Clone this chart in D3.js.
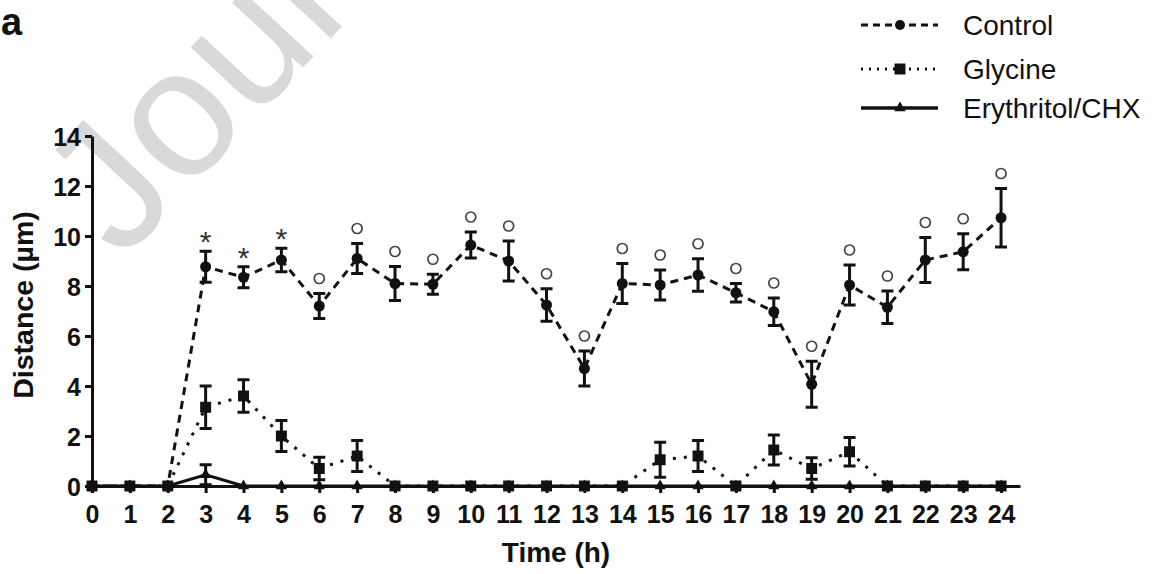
<!DOCTYPE html>
<html>
<head>
<meta charset="utf-8">
<script src="https://cdn.jsdelivr.net/npm/d3@7/dist/d3.min.js"></script>
<style>
  html, body { margin: 0; padding: 0; background: #fff; }
  svg { display: block; font-family: "Liberation Sans", Arial, Helvetica, sans-serif; }
</style>
</head>
<body>
<svg id="chart" width="1152" height="574"></svg>
<script>
// ---- data ----
const hours = d3.range(0, 25);
const xTickLabels = hours.map(String);
const yTicks = [0, 2, 4, 6, 8, 10, 12, 14];
const controlMean = [0, 0, 0, 8.77, 8.35, 9.04, 7.2, 9.1, 8.1, 8.07, 9.64, 9.0, 7.24, 4.7, 8.1, 8.04, 8.44, 7.73, 6.97, 4.07, 8.04, 7.15, 9.04, 9.37, 10.73];
const controlSem  = [0, 0, 0, 0.62, 0.42, 0.47, 0.5, 0.6, 0.68, 0.4, 0.52, 0.8, 0.65, 0.7, 0.8, 0.6, 0.65, 0.37, 0.55, 0.92, 0.8, 0.65, 0.9, 0.72, 1.17];
const glycineMean = [0, 0, 0, 3.15, 3.6, 2.0, 0.7, 1.2, 0, 0, 0, 0, 0, 0, 0, 1.05, 1.2, 0, 1.44, 0.7, 1.37, 0, 0, 0, 0];
const glycineSem  = [0, 0, 0, 0.85, 0.65, 0.62, 0.45, 0.62, 0, 0, 0, 0, 0, 0, 0, 0.7, 0.62, 0, 0.6, 0.43, 0.57, 0, 0, 0, 0];
const eryMean = [0, 0, 0, 0.45, 0, 0, 0, 0, 0, 0, 0, 0, 0, 0, 0, 0, 0, 0, 0, 0, 0, 0, 0, 0, 0];
const erySem  = [0, 0, 0, 0.4, 0, 0, 0, 0, 0, 0, 0, 0, 0, 0, 0, 0, 0, 0, 0, 0, 0, 0, 0, 0, 0];
const signif = ["", "", "", "*", "*", "*", "o", "o", "o", "o", "o", "o", "o", "o", "o", "o", "o", "o", "o", "o", "o", "o", "o", "o", "o"];
const seriesNames = ["Control", "Glycine", "Erythritol/CHX"];

// ---- layout ----
const svg = d3.select("#chart");
const x = d3.scaleLinear().domain([0, 24.5]).range([92, 1020]);
const y = d3.scaleLinear().domain([0, 14]).range([486, 136]);
const ink = "#111";

// watermark
svg.append("text")
  .attr("transform", "translate(122,262) rotate(-47)")
  .attr("font-size", 182)
  .attr("fill", "#d9d9d9")
  .text("Journal Pre-proof");

// panel label
svg.append("text").attr("x", 1).attr("y", 35)
  .attr("font-size", 38).attr("font-weight", "bold").attr("fill", ink).text("a");

// axes
const xAxis = svg.append("g").attr("transform", `translate(0,${y(0)})`)
  .call(d3.axisBottom(x).tickValues(hours).tickFormat((d, i) => xTickLabels[i]).tickSize(7).tickSizeOuter(0).tickPadding(12));
const yAxis = svg.append("g").attr("transform", `translate(${x(0)},0)`)
  .call(d3.axisLeft(y).tickValues(yTicks).tickSize(7).tickSizeOuter(0).tickPadding(4));
[xAxis, yAxis].forEach(g => {
  g.selectAll("path, line").attr("stroke", ink).attr("stroke-width", 3);
  g.selectAll("text").attr("font-size", 25).attr("font-weight", "bold").attr("fill", ink)
    .attr("font-family", '"Liberation Sans", Arial, sans-serif');
});
yAxis.selectAll("text").attr("dy", "0.36em");

// axis titles
svg.append("text").attr("x", (x(0) + x(24.5)) / 2).attr("y", 562)
  .attr("text-anchor", "middle").attr("font-size", 28).attr("font-weight", "bold").attr("fill", ink)
  .text("Time (h)");
svg.append("text").attr("transform", `translate(33,${(y(0) + y(14)) / 2 - 6}) rotate(-90)`)
  .attr("text-anchor", "middle").attr("font-size", 28.5).attr("font-weight", "bold").attr("fill", ink)
  .text("Distance (µm)");

// helpers
const line = d3.line().x((d, i) => x(hours[i])).y(d => y(d));
const sq = d3.symbol().type(d3.symbolSquare).size(120);
const tri = d3.symbol().type(d3.symbolTriangle).size(55);

function drawSeries(means, sems, dash, width, marker) {
  const g = svg.append("g");
  g.append("path").datum(means).attr("d", line)
    .attr("fill", "none").attr("stroke", ink).attr("stroke-width", width)
    .attr("stroke-dasharray", dash);
  const eb = g.selectAll("g.eb").data(means.map((m, i) => ({ m, s: sems[i], h: hours[i] })).filter(d => d.s > 0))
    .join("g").attr("stroke", ink).attr("stroke-width", 3);
  eb.append("line").attr("x1", d => x(d.h)).attr("x2", d => x(d.h))
    .attr("y1", d => y(d.m - d.s)).attr("y2", d => y(d.m + d.s));
  eb.append("line").attr("x1", d => x(d.h) - 6).attr("x2", d => x(d.h) + 6)
    .attr("y1", d => y(d.m + d.s)).attr("y2", d => y(d.m + d.s));
  eb.append("line").attr("x1", d => x(d.h) - 6).attr("x2", d => x(d.h) + 6)
    .attr("y1", d => y(d.m - d.s)).attr("y2", d => y(d.m - d.s));
  g.selectAll(".mk").data(means).join(marker === "circle" ? "circle" : "path")
    .each(function (d, i) {
      const el = d3.select(this).attr("fill", ink);
      if (marker === "circle") el.attr("cx", x(hours[i])).attr("cy", y(d)).attr("r", 5.5);
      else el.attr("transform", `translate(${x(hours[i])},${y(d)})`).attr("d", marker === "square" ? sq() : tri());
    });
}

drawSeries(controlMean, controlSem, "8,6", 3, "circle");
drawSeries(eryMean, erySem, null, 3, "triangle");
drawSeries(glycineMean, glycineSem, "3,8", 3, "square");

// significance markers
signif.forEach((s, i) => {
  if (!s) return;
  const top = y(controlMean[i] + controlSem[i]);
  if (s === "*") {
    svg.append("text").attr("x", x(hours[i])).attr("y", top + 1)
      .attr("text-anchor", "middle").attr("font-size", 30).attr("fill", "#333").text("*");
  } else {
    svg.append("circle").attr("cx", x(hours[i])).attr("cy", top - 15).attr("r", 5)
      .attr("fill", "none").attr("stroke", "#444").attr("stroke-width", 1.7);
  }
});

// legend
const legY = [25, 69, 108];
const legDash = ["7,5", "2,6", null];
const legMarker = ["circle", "square", "triangle"];
seriesNames.forEach((name, i) => {
  const g = svg.append("g").attr("transform", `translate(0,${legY[i]})`);
  g.append("line").attr("x1", 861).attr("x2", 938).attr("y1", 0).attr("y2", 0)
    .attr("stroke", ink).attr("stroke-width", i === 2 ? 3.5 : 3).attr("stroke-dasharray", legDash[i]);
  if (legMarker[i] === "circle") g.append("circle").attr("cx", 900).attr("cy", 0).attr("r", 5).attr("fill", ink);
  else g.append("path").attr("transform", "translate(900,0)").attr("d", legMarker[i] === "square" ? sq() : tri()).attr("fill", ink);
  g.append("text").attr("x", 963).attr("y", 10).attr("font-size", 28).attr("fill", ink).text(name);
});
</script>
</body>
</html>
